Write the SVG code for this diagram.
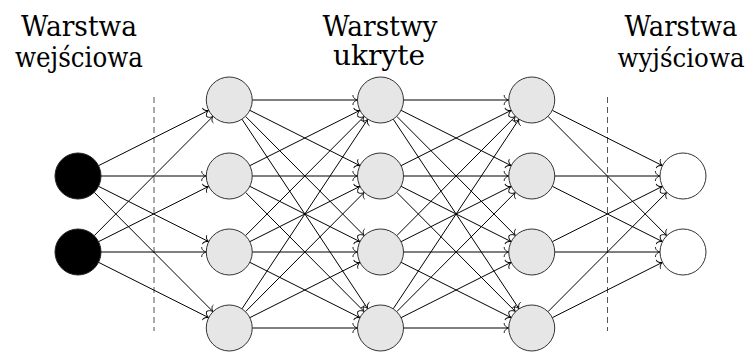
<svg xmlns="http://www.w3.org/2000/svg" width="753" height="354" viewBox="0 0 753 354">
  <style>
    .lbl { font-family: "DejaVu Serif", serif; font-size: 27px; fill: #000; text-anchor: middle; }
    .in { fill: #000; stroke: #222; stroke-width: 1; }
    .hid { fill: #e6e6e6; stroke: #333; stroke-width: 1; }
    .out { fill: #fff; stroke: #333; stroke-width: 1; }
    .sep { stroke: #555; stroke-width: 1; stroke-dasharray: 6 4; fill: none; }
    #edges path { stroke: #000; stroke-width: 1; fill: none; marker-end: url(#tip); }
  </style>
  <defs>
    <!-- curved-barb arrow tip -->
    <marker id="tip" markerUnits="userSpaceOnUse" markerWidth="12" markerHeight="12" viewBox="-7 -6 8 12" refX="0" refY="0" orient="auto">
      <path d="M-4.5,-5 C-5,-2.5 -2,-0.4 0,0 C-2,0.4 -5,2.5 -4.5,5" fill="none" stroke="#000" stroke-width="0.9"/>
    </marker>
  </defs>
  <rect width="753" height="354" fill="#fff"/>

  <!-- layer titles -->
  <g id="titles">
    <text class="lbl" x="79" y="36" textLength="116" lengthAdjust="spacingAndGlyphs">Warstwa</text>
    <text class="lbl" x="79" y="67" textLength="128" lengthAdjust="spacingAndGlyphs">wejściowa</text>
    <text class="lbl" x="380" y="36" textLength="115" lengthAdjust="spacingAndGlyphs">Warstwy</text>
    <text class="lbl" x="379" y="65" textLength="92" lengthAdjust="spacingAndGlyphs">ukryte</text>
    <text class="lbl" x="681" y="36" textLength="113" lengthAdjust="spacingAndGlyphs">Warstwa</text>
    <text class="lbl" x="681" y="67" style="font-size:25.5px" textLength="127" lengthAdjust="spacingAndGlyphs">wyjściowa</text>
  </g>

  <!-- layer separators -->
  <g id="separators">
    <line class="sep" x1="154" y1="97" x2="154" y2="331"/>
    <line class="sep" x1="607.5" y1="97" x2="607.5" y2="331"/>
  </g>

  <g id="edges">
    <!-- input -> hidden 1 -->
    <path d="M98.55,165.67 L208.7,110.33"/>
    <path d="M101,176 L206.25,176"/>
    <path d="M98.55,186.33 L208.7,241.67"/>
    <path d="M94.22,192.3 L213.03,311.7"/>
    <path d="M94.22,235.7 L213.03,116.3"/>
    <path d="M98.55,241.67 L208.7,186.33"/>
    <path d="M101,252 L206.25,252"/>
    <path d="M98.55,262.33 L208.7,317.67"/>
    <!-- hidden 1 -> hidden 2 -->
    <path d="M252.25,100 L357.5,100"/>
    <path d="M249.8,110.33 L359.95,165.67"/>
    <path d="M245.47,116.3 L364.28,235.7"/>
    <path d="M241.96,119.17 L367.79,308.83"/>
    <path d="M249.8,165.67 L359.95,110.33"/>
    <path d="M252.25,176 L357.5,176"/>
    <path d="M249.8,186.33 L359.95,241.67"/>
    <path d="M245.47,192.3 L364.28,311.7"/>
    <path d="M245.47,235.7 L364.28,116.3"/>
    <path d="M249.8,241.67 L359.95,186.33"/>
    <path d="M252.25,252 L357.5,252"/>
    <path d="M249.8,262.33 L359.95,317.67"/>
    <path d="M241.96,308.83 L367.79,119.17"/>
    <path d="M245.47,311.7 L364.28,192.3"/>
    <path d="M249.8,317.67 L359.95,262.33"/>
    <path d="M252.25,328 L357.5,328"/>
    <!-- hidden 2 -> hidden 3 -->
    <path d="M403.5,100 L508.75,100"/>
    <path d="M401.05,110.33 L511.2,165.67"/>
    <path d="M396.72,116.3 L515.53,235.7"/>
    <path d="M393.21,119.17 L519.04,308.83"/>
    <path d="M401.05,165.67 L511.2,110.33"/>
    <path d="M403.5,176 L508.75,176"/>
    <path d="M401.05,186.33 L511.2,241.67"/>
    <path d="M396.72,192.3 L515.53,311.7"/>
    <path d="M396.72,235.7 L515.53,116.3"/>
    <path d="M401.05,241.67 L511.2,186.33"/>
    <path d="M403.5,252 L508.75,252"/>
    <path d="M401.05,262.33 L511.2,317.67"/>
    <path d="M393.21,308.83 L519.04,119.17"/>
    <path d="M396.72,311.7 L515.53,192.3"/>
    <path d="M401.05,317.67 L511.2,262.33"/>
    <path d="M403.5,328 L508.75,328"/>
    <!-- hidden 3 -> output -->
    <path d="M552.3,110.33 L662.45,165.67"/>
    <path d="M547.97,116.3 L666.78,235.7"/>
    <path d="M554.75,176 L660,176"/>
    <path d="M552.3,186.33 L662.45,241.67"/>
    <path d="M552.3,241.67 L662.45,186.33"/>
    <path d="M554.75,252 L660,252"/>
    <path d="M547.97,311.7 L666.78,192.3"/>
    <path d="M552.3,317.67 L662.45,262.33"/>
  </g>

  <!-- input layer -->
  <g id="in1"><circle class="in" cx="78" cy="176" r="23"/></g>
  <g id="in2"><circle class="in" cx="78" cy="252" r="23"/></g>
  <!-- hidden layer 1 -->
  <g id="h1a"><circle class="hid" cx="229.25" cy="100" r="23"/></g>
  <g id="h1b"><circle class="hid" cx="229.25" cy="176" r="23"/></g>
  <g id="h1c"><circle class="hid" cx="229.25" cy="252" r="23"/></g>
  <g id="h1d"><circle class="hid" cx="229.25" cy="328" r="23"/></g>
  <!-- hidden layer 2 -->
  <g id="h2a"><circle class="hid" cx="380.5" cy="100" r="23"/></g>
  <g id="h2b"><circle class="hid" cx="380.5" cy="176" r="23"/></g>
  <g id="h2c"><circle class="hid" cx="380.5" cy="252" r="23"/></g>
  <g id="h2d"><circle class="hid" cx="380.5" cy="328" r="23"/></g>
  <!-- hidden layer 3 -->
  <g id="h3a"><circle class="hid" cx="531.75" cy="100" r="23"/></g>
  <g id="h3b"><circle class="hid" cx="531.75" cy="176" r="23"/></g>
  <g id="h3c"><circle class="hid" cx="531.75" cy="252" r="23"/></g>
  <g id="h3d"><circle class="hid" cx="531.75" cy="328" r="23"/></g>
  <!-- output layer -->
  <g id="out1"><circle class="out" cx="683" cy="176" r="23"/></g>
  <g id="out2"><circle class="out" cx="683" cy="252" r="23"/></g>
</svg>
